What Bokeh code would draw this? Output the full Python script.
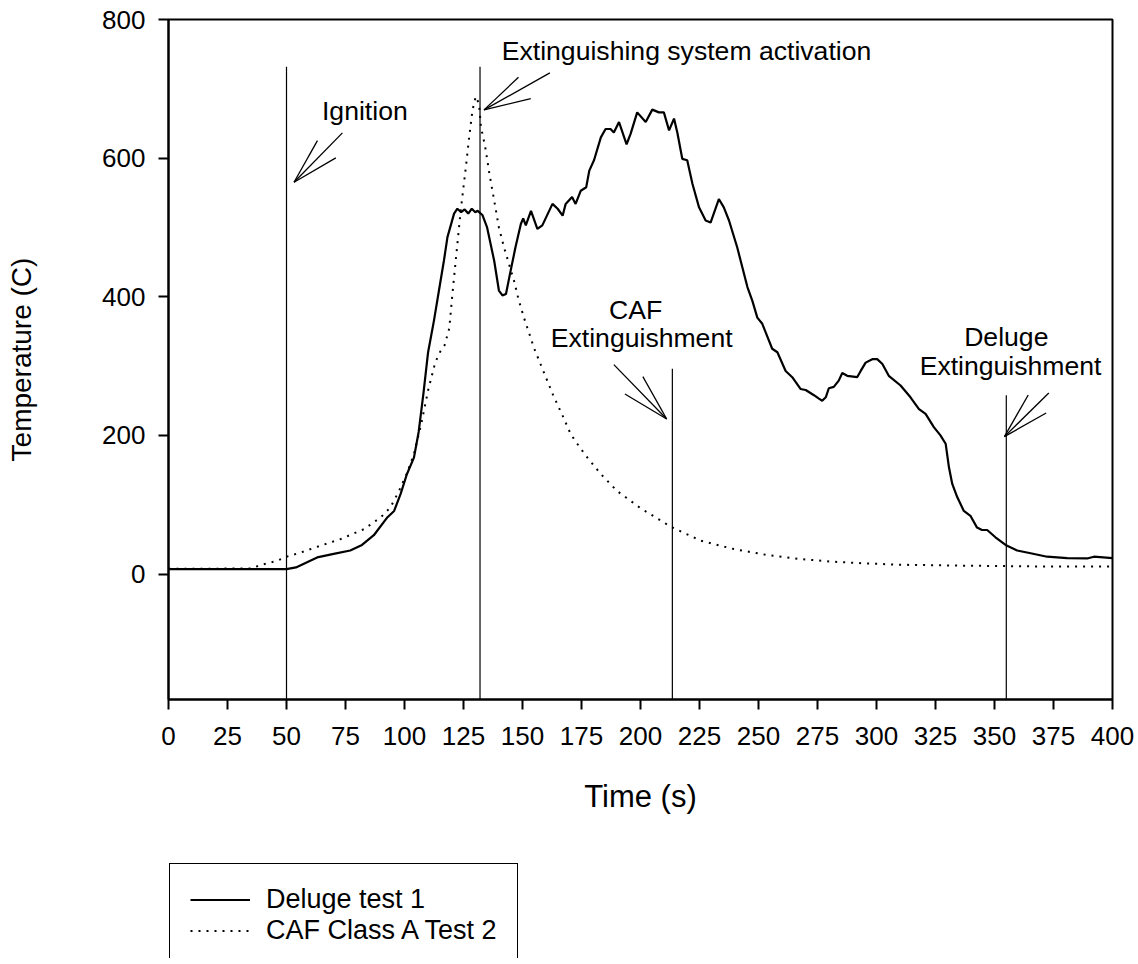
from bokeh.plotting import figure
from bokeh.models import Range1d, FixedTicker, Legend, LegendItem, ColumnDataSource
from bokeh.layouts import column
from bokeh.embed import file_html
from bokeh.resources import INLINE
from bokeh.core.properties import value

FONT = "Liberation Sans"

# ---------------- data ----------------
deluge_time = [0, 50, 54, 63, 70, 77, 82, 87, 92.8, 95.6, 98.4, 101, 104, 106, 108, 110,
               112.5, 114.6, 116.7, 118.2, 121, 122.4, 124, 125.5, 127, 128.5, 130, 131, 133,
               135, 138, 140, 141.5, 143, 144.7, 147, 149.3, 150.3, 151.4, 153.6, 156.3, 158.4,
               162.7, 164.9, 167, 168.3, 171, 172.5, 174.7, 177, 178.3, 180.3, 183.2, 185.2,
               187.3, 188.7, 190.9, 194.1, 195.8, 198.6, 202.2, 205, 207.8, 209.9, 212.1, 214.2,
               215.6, 217.7, 219.8, 222, 224.8, 227.6, 229.7, 233.2, 235.3, 237.5, 241, 245.3,
               247.4, 249.5, 251.6, 255.8, 258, 261.5, 264.3, 267.8, 270, 273.5, 275.6, 277,
               278.5, 279.8, 281.9, 284, 285.5, 287.6, 291.8, 293.3, 295.4, 298.2, 300.3, 302.5,
               305.2, 310.2, 314.4, 318, 320.8, 324.3, 327.1, 329.3, 330.7, 332.1, 334.2, 337,
               339.8, 342.6, 344.7, 346.9, 350.4, 354.7, 359.6, 365.3, 372.3, 380.8, 389.3, 392.1,
               400]
deluge_temp = [7, 7, 9.5, 24, 29, 34, 42, 56, 82, 91, 116, 144, 168, 205, 260, 320,
               366, 409, 452, 486, 520, 527, 522, 526, 520, 527, 522, 524, 518,
               500, 452, 409, 402, 404, 433, 471, 505, 513, 503, 524, 498, 503,
               534, 527, 517, 534, 544, 534, 553, 558, 582, 597, 630, 642,
               642, 637, 652, 620, 635, 666, 652, 670, 666, 666, 640, 657,
               637, 599, 597, 563, 529, 510, 507, 541, 529, 510, 471, 414,
               394, 370, 361, 325, 320, 293, 284, 267, 265.5, 258, 253, 250,
               255, 268, 270, 279, 290, 286, 284, 293, 305, 310, 310, 303,
               286, 272, 255, 238, 231, 212, 200, 188, 154, 130, 111, 91,
               84, 67, 63.5, 63.5, 53, 42, 34, 30, 25, 23, 22.5, 25,
               23]

caf_time = [0, 35, 39, 46, 50, 56, 64.5, 73, 83, 90, 94, 97.7, 101, 104, 107, 110, 113, 115,
            117, 119, 120.3, 121.7, 123.8, 126, 127.4, 128.8, 130.2, 131.6, 132.4, 134.2, 136,
            138, 140, 142.2, 144.3, 146.4, 148.5, 150.6, 155, 160, 163, 167.6, 170.4, 173.2,
            176.8, 183, 190, 200, 213, 225.6, 239.6, 253.7, 267.8, 281.9, 296, 310, 338, 367,
            400]
caf_temp = [7.5, 8, 13, 19, 25, 31, 41, 50.5, 65, 82, 96, 120, 145, 173, 215, 265, 305, 320,
            330, 355, 404, 452, 524, 587, 630, 669, 689, 678, 645, 616, 577,
            539, 500, 471, 447, 423, 394, 370, 325, 283, 258, 224, 202, 188,
            171, 145, 120, 95, 68, 48, 36, 27.4, 21.6, 17.7, 15.3, 13.4, 12, 11,
            11]

event_time = [50, 132, 213.5, 355]
event_top = [732, 732, 296, 258]

x_ticks = [0, 25, 50, 75, 100, 125, 150, 175, 200, 225, 250, 275, 300, 325, 350, 375, 400]
y_ticks = [0, 200, 400, 600, 800]

series_names = ["Deluge test 1", "CAF Class A Test 2"]

Y_MIN, Y_MAX = -181, 800

# ---------------- main figure ----------------
p = figure(width=1138, height=840, output_backend="svg", toolbar_location=None,
           x_range=Range1d(0, 400), y_range=Range1d(Y_MIN, Y_MAX),
           min_border_left=168, min_border_right=26, min_border_top=19,
           min_border_bottom=141)
p.xgrid.visible = False
p.ygrid.visible = False
p.background_fill_color = "white"
p.border_fill_color = "white"
p.outline_line_color = "black"
p.outline_line_width = 2

for ax in (p.xaxis[0], p.yaxis[0]):
    ax.axis_line_width = 2
    ax.major_tick_line_width = 2
    ax.major_tick_out = 10
    ax.major_tick_in = 0
    ax.minor_tick_out = 0
    ax.minor_tick_in = 0
    ax.major_label_text_font = FONT
    ax.major_label_text_font_size = "26px"
    ax.major_label_text_color = "black"
    ax.axis_label_text_font = FONT
    ax.axis_label_text_font_style = "normal"
    ax.axis_label_text_color = "black"

p.xaxis.axis_label_text_font_size = "31px"
p.yaxis.axis_label_text_font_size = "28px"
p.xaxis.ticker = FixedTicker(ticks=x_ticks)
p.yaxis.ticker = FixedTicker(ticks=y_ticks)
p.xaxis.axis_label = "Time (s)"
p.yaxis.axis_label = "Temperature (C)"
p.xaxis.major_label_standoff = 17
p.yaxis.major_label_standoff = 13
p.xaxis.axis_label_standoff = 31
p.yaxis.axis_label_standoff = 62

# event lines
ev = ColumnDataSource(dict(x=event_time, top=event_top, bottom=[Y_MIN] * len(event_time)))
p.segment(x0="x", y0="bottom", x1="x", y1="top", source=ev, line_color="black", line_width=1.2)

# curves
SOLID = dict(line_color="black", line_width=2.2)
DOTTED = dict(line_color="black", line_width=2, line_dash="2 6")
p.line(deluge_time, deluge_temp, **SOLID)
p.line(caf_time, caf_temp, **DOTTED)

# annotations: arrows (three strokes from a tip) and labels
arrows = [
    ((53.2, 565.2), [(63.1, 625.3), (73.7, 636.5), (70.9, 600.4)]),
    ((133.7, 669.6), [(148.3, 716.7), (161.6, 723.0), (153.5, 685.9)]),
    ((211.1, 223.7), [(188.7, 302.1), (201.0, 284.7), (193.4, 259.8)]),
    ((354.2, 198.2), [(364.3, 258.3), (373.0, 261.2), (371.9, 232.4)]),
]
ax0, ay0, ax1, ay1 = [], [], [], []
for tip, ends in arrows:
    for e in ends:
        ax0.append(tip[0]); ay0.append(tip[1]); ax1.append(e[0]); ay1.append(e[1])
p.segment(x0=ax0, y0=ay0, x1=ax1, y1=ay1, line_color="black", line_width=1.3)

labels = ColumnDataSource(dict(
    x=[83.2, 219.5, 197.9, 200.5, 355.0, 356.8],
    y=[667.5, 754.3, 381.5, 340.5, 341.5, 299.8],
    t=["Ignition", "Extinguishing system activation", "CAF", "Extinguishment",
       "Deluge", "Extinguishment"]))
p.text(x="x", y="y", text="t", source=labels, text_align="center",
       text_baseline="alphabetic", text_font=value(FONT), text_font_size="26.6px",
       text_color="black")

# ---------------- legend strip below the plot ----------------
lg = figure(width=1138, height=118, output_backend="svg", toolbar_location=None,
            x_range=Range1d(0, 1), y_range=Range1d(0, 1),
            x_axis_type=None, y_axis_type=None,
            min_border_left=0, min_border_right=0, min_border_top=0, min_border_bottom=0)
lg.xgrid.visible = False
lg.ygrid.visible = False
lg.outline_line_color = None
lg.background_fill_color = "white"
lg.border_fill_color = "white"
l1 = lg.line([-10, -9], [-10, -9], **SOLID)
l2 = lg.line([-10, -9], [-10, -9], **DOTTED)
legend = Legend(items=[LegendItem(label=series_names[0], renderers=[l1]),
                       LegendItem(label=series_names[1], renderers=[l2])],
                location=(1, -9), padding=20, spacing=-5, margin=0,
                label_height=27, glyph_height=27, glyph_width=60, label_standoff=16,
                label_width=231,
                label_text_font=FONT, label_text_font_size="27px",
                label_text_color="black",
                border_line_color="black", border_line_width=1.6, border_line_alpha=1,
                background_fill_color="white", background_fill_alpha=1)
lg.add_layout(legend)

layout = column(p, lg, spacing=0)
open("out.html", "w").write(file_html(layout, INLINE))
